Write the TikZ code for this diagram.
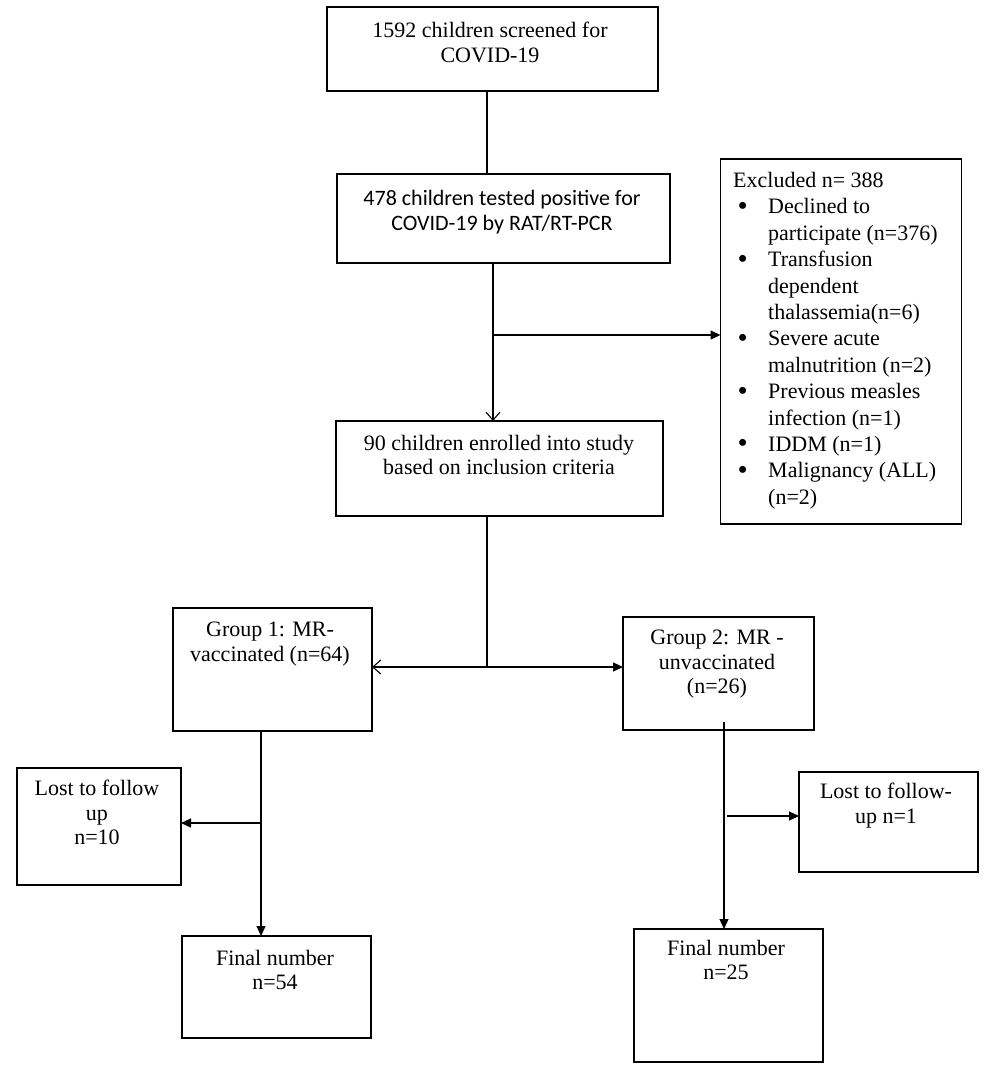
\documentclass[tikz,border=0pt]{standalone}
\usepackage{fontspec}
\setmainfont{Liberation Serif}
\newfontfamily\calibri{Carlito}
\usetikzlibrary{arrows.meta}
\newcommand\exbul{\makebox[35pt][l]{\hspace{4.5pt}\raisebox{-1.5pt}{\fontsize{29}{0}\selectfont\textbullet}}}
\newcommand\exind{\hspace*{35pt}}
\begin{document}
\begin{tikzpicture}[x=1pt,y=-1pt,
  box/.style={draw,line width=1.2pt,inner sep=0pt,outer sep=0pt},
  txt/.style={align=center,inner sep=0pt,anchor=north,font=\fontsize{22}{24.5}\selectfont},
  ln/.style={line width=1.2pt},
  fa/.style={-{Triangle[length=10pt,width=9pt]}},
  oa/.style={-{Straight Barb[length=8pt,width=14pt,line width=1.1pt]}}]
\useasboundingbox (0,0) rectangle (986,1069);
\fill[white] (0,0) rectangle (986,1069);

% boxes
\node[box,minimum width=331pt,minimum height=84pt] (b1) at (492.5,49) {};
\node[box,minimum width=333pt,minimum height=89pt] (b2) at (503.5,218.5) {};
\node[box,minimum width=241pt,minimum height=365pt] (ex) at (841,341.5) {};
\node[box,line width=2.4pt,minimum width=327pt,minimum height=95pt] (b3) at (499.5,468.5) {};
\node[box,minimum width=199pt,minimum height=123pt] (g1) at (272.5,669.5) {};
\node[box,minimum width=191pt,minimum height=113pt] (g2) at (718.5,673.5) {};
\node[box,minimum width=164pt,minimum height=117pt] (l1) at (99,826.5) {};
\node[box,minimum width=189pt,minimum height=102pt] (f1) at (276.5,987) {};
\node[box,minimum width=179pt,minimum height=100pt] (l2) at (888.5,822) {};
\node[box,minimum width=189pt,minimum height=133pt] (f2) at (728.5,995.5) {};

% texts
\node[txt] (t1) at (490,22) {1592 children screened for\\COVID-19};
\node[txt,font=\calibri\fontsize{22}{25}\selectfont] (t2) at (502,190) {478 children tested positive for\\COVID-19 by RAT/RT-PCR};
\node[txt] (t3) at (499,435) {90 children enrolled into study\\based on inclusion criteria};
\node[txt] (tg1) at (270,622) {Group 1: MR-\\vaccinated (n=64)};
\node[txt] (tg2) at (717,630) {Group 2: MR -\\unvaccinated\\(n=26)};
\node[txt] (tl1) at (97,780) {Lost to follow\\up\\n=10};
\node[txt] (tf1) at (275,950) {Final number\\n=54};
\node[txt] (tl2) at (886,783) {Lost to follow-\\up n=1};
\node[txt] (tf2) at (726,940) {Final number\\n=25};
\node[anchor=north west,align=left,inner sep=0pt,font=\fontsize{22}{26.4}\selectfont] (et) at (733,172) {%
Excluded n= 388\\
\exbul Declined to\\
\exind participate (n=376)\\
\exbul Transfusion\\
\exind dependent\\
\exind thalassemia(n=6)\\
\exbul Severe acute\\
\exind malnutrition (n=2)\\
\exbul Previous measles\\
\exind infection (n=1)\\
\exbul IDDM (n=1)\\
\exbul Malignancy (ALL)\\
\exind (n=2)};

% connectors
\coordinate (c1) at (487,0);
\draw[ln] (b1.south -| c1) -- (b2.north -| c1);
\coordinate (c2) at (493,335);
\draw[ln,oa] (b2.south -| c2) -- (b3.north -| c2);
\draw[ln,fa] (c2) -- (c2 -| ex.west);
\coordinate (c3) at (487,667);
\draw[ln] (b3.south -| c3) -- (c3);
\draw[ln,oa] (c3) -- (c3 -| g1.east);
\draw[ln,fa] (c3) -- (c3 -| g2.west);
\coordinate (c4) at (261,823);
\draw[ln,fa] (g1.south -| c4) -- (f1.north -| c4);
\draw[ln,fa] (c4) -- (c4 -| l1.east);
\coordinate (c5) at (724,816);
\coordinate (c6) at (727,816);
\draw[ln,fa] ([yshift=8pt]g2.south -| c5) -- (f2.north -| c5);
\draw[ln,fa] (c6) -- (c6 -| l2.west);
\end{tikzpicture}
\end{document}
